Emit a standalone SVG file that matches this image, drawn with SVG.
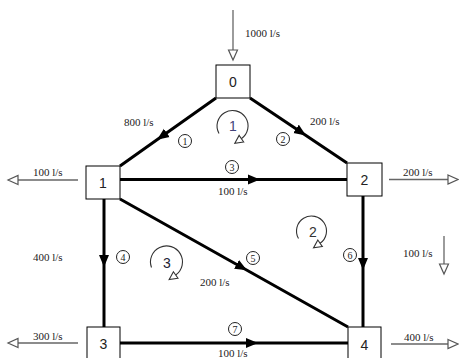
<svg xmlns="http://www.w3.org/2000/svg" width="459" height="358" viewBox="0 0 459 358">
<style>
.node rect{fill:#fff;stroke:#000;stroke-width:1}
.node text{font-family:"Liberation Sans",Arial,sans-serif;font-size:14px;fill:#222;text-anchor:middle}
.pipe{fill:none;stroke:#000;stroke-width:3;marker-mid:url(#fa)}
.flow{fill:none;stroke:#666;stroke-width:1.3;marker-end:url(#oa)}
.loop{fill:none;stroke:#333;stroke-width:1.1;marker-end:url(#la)}
.lbl{font-family:"Liberation Serif","Times New Roman",serif;font-size:11px;fill:#222}
.num circle{fill:#fff;stroke:#222;stroke-width:1}
.num text{font-family:"Liberation Serif","Times New Roman",serif;font-size:10px;fill:#222;text-anchor:middle}
.lnum{font-family:"Liberation Sans",Arial,sans-serif;font-size:14px;fill:#333;text-anchor:middle}
</style>
<defs>
<marker id="fa" markerUnits="userSpaceOnUse" markerWidth="14" markerHeight="12" refX="12" refY="5.5" orient="auto" viewBox="0 0 14 12">
<path d="M0,0.5 L12,5.5 L0,10.5 Z" fill="#000"/>
</marker>
<marker id="oa" markerUnits="userSpaceOnUse" markerWidth="14" markerHeight="12" refX="1" refY="6" orient="auto" viewBox="0 0 14 12">
<path d="M1,1.5 L11,6 L1,10.5 Z" fill="#fff" stroke="#555" stroke-width="1.2"/>
</marker>
<marker id="la" markerUnits="userSpaceOnUse" markerWidth="12" markerHeight="12" refX="1" refY="6" orient="auto" viewBox="0 0 12 12">
<path d="M1,2 L9,6 L1,10 Z" fill="#fff" stroke="#333" stroke-width="1.1"/>
</marker>
</defs>

<g id="connectors">
<path class="pipe" d="M216,98 L157,139.8 L120,166"/>
<path class="pipe" d="M250,98 L306,135.5 L347,163"/>
<path class="pipe" d="M120,179.5 L260,179.5 L347,179.5"/>
<path class="pipe" d="M104,199 L104,267 L104,327"/>
<path class="pipe" d="M120,199 L247,270.3 L348,327"/>
<path class="pipe" d="M363,196 L363,270 L363,327"/>
<path class="pipe" d="M120,343 L258,343 L348,343"/>

<path class="flow" d="M233,10 L233,50"/>
<path class="flow" d="M78,180 L18,180"/>
<path class="flow" d="M389,179.5 L448,179.5"/>
<path class="flow" d="M78,343 L18,343"/>
<path class="flow" d="M391,344 L448,344"/>
<path class="flow" d="M444,236 L444,264"/>
</g>

<g id="loops">
<path class="loop" d="M219,133.5 A15.5,15.5 0 1 1 241.4,138.7"/>
<text class="lnum" x="233" y="131" style="fill:#44447a">1</text>
<path class="loop" d="M298.5,238.5 A15,15 0 1 1 320.1,243.3"/>
<text class="lnum" x="313" y="237">2</text>
<path class="loop" d="M151.5,267.5 A16,16 0 1 1 175.7,275"/>
<text class="lnum" x="167" y="268" style="fill:#223">3</text>
</g>

<g id="labels">
<text class="lbl" x="245" y="37">1000 l/s</text>
<text class="lbl" x="124" y="126">800 l/s</text>
<text class="lbl" x="310" y="125">200 l/s</text>
<text class="lbl" x="218" y="195">100 l/s</text>
<text class="lbl" x="33" y="176">100 l/s</text>
<text class="lbl" x="403" y="176">200 l/s</text>
<text class="lbl" x="33" y="261">400 l/s</text>
<text class="lbl" x="200" y="286">200 l/s</text>
<text class="lbl" x="403" y="257">100 l/s</text>
<text class="lbl" x="33" y="340">300 l/s</text>
<text class="lbl" x="404" y="341">400 l/s</text>
<text class="lbl" x="218" y="357">100 l/s</text>
</g>

<g id="pipe-numbers">
<g class="num"><circle cx="185" cy="141" r="6.5"/><text x="185" y="144.5">1</text></g>
<g class="num"><circle cx="283" cy="139" r="6.5"/><text x="283" y="142.5">2</text></g>
<g class="num"><circle cx="232" cy="167" r="6.5"/><text x="232" y="170.5">3</text></g>
<g class="num"><circle cx="123" cy="257" r="6.5"/><text x="123" y="260.5">4</text></g>
<g class="num"><circle cx="253" cy="258" r="6.5"/><text x="253" y="261.5">5</text></g>
<g class="num"><circle cx="350" cy="255" r="6.5"/><text x="350" y="258.5">6</text></g>
<g class="num"><circle cx="235" cy="329" r="6.5"/><text x="235" y="332.5">7</text></g>
</g>

<g id="node0" class="node"><rect x="216" y="65" width="34" height="33"/><text x="233" y="87">0</text></g>
<g id="node1" class="node"><rect x="86" y="166" width="34" height="33"/><text x="103" y="188">1</text></g>
<g id="node2" class="node"><rect x="347" y="163" width="35" height="33"/><text x="364.5" y="185">2</text></g>
<g id="node3" class="node"><rect x="87" y="327" width="33" height="40"/><text x="103.5" y="349">3</text></g>
<g id="node4" class="node"><rect x="348" y="327" width="33" height="40"/><text x="364.5" y="350">4</text></g>
</svg>
